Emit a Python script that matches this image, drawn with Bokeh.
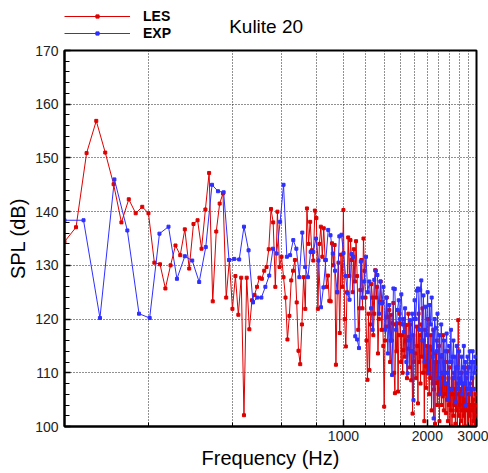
from bokeh.plotting import figure
from bokeh.layouts import column
from bokeh.models import (Legend, LegendItem, FixedTicker, SingleIntervalTicker,
                          PrintfTickFormatter, Range1d, Label)
from bokeh.embed import file_html
from bokeh.resources import INLINE

# ---------------- data ----------------
les_freq = list(range(100, 3001, 10))      # Hz, LES spectrum bins
exp_freq = list(range(100, 3000, 17))      # Hz, experiment spectrum bins

les_spl = [
    134.4, 137.1, 150.9, 156.9, 151.0, 145.1, 138.0, 142.3, 139.7, 140.9,
    139.7, 130.5, 130.2, 125.7, 130.0, 133.7, 131.9, 136.7, 129.4, 137.7,
    138.4, 133.1, 140.4, 147.2, 123.3, 136.3, 141.5, 143.4, 124.0, 131.0,
    121.9, 128.0, 120.8, 127.7, 102.1, 127.7, 118.1, 123.5, 124.5, 126.0,
    127.7, 127.5, 129.0, 129.7, 133.0, 140.5, 138.0, 126.0, 140.0, 129.7,
    131.6, 127.8, 124.0, 116.2, 120.6, 127.2, 129.0, 131.0, 123.1, 114.1,
    111.6, 119.0, 127.8, 121.9, 140.6, 134.0, 138.1, 132.8, 130.9, 140.2,
    138.8, 121.9, 134.0, 137.2, 131.6, 136.9, 131.0, 126.0, 128.1, 123.4,
    123.3, 134.1, 130.0, 133.8, 111.5, 125.0, 130.5, 117.4, 132.0, 126.0,
    140.3, 120.0, 114.9, 125.0, 135.2, 128.0, 134.7, 131.0, 125.0, 133.0,
    127.0, 134.5, 128.0, 118.0, 122.0, 125.4, 131.0, 122.0, 135.0, 129.0,
    124.0, 116.0, 108.7, 121.0, 110.5, 119.0, 126.5, 124.0, 117.0, 121.0,
    129.1, 124.0, 126.0, 113.6, 120.0, 123.2, 127.0, 118.0, 123.2, 115.0,
    103.7, 116.0, 118.6, 124.0, 120.4, 118.6, 121.7, 112.0, 120.8, 116.0,
    119.2, 123.0, 110.0, 106.2, 119.0, 114.0, 119.2, 106.5, 117.0, 121.0,
    119.2, 112.0, 117.0, 110.0, 114.2, 120.0, 113.0, 116.0, 118.9, 109.0,
    114.5, 121.0, 116.7, 111.0, 119.0, 108.6, 114.0, 102.4, 117.0, 112.0,
    120.0, 113.6, 109.0, 118.6, 115.0, 104.3, 121.0, 112.0, 117.0, 108.0,
    119.0, 113.0, 122.0, 110.0, 116.0, 101.0, 118.0, 111.2, 107.2, 115.0,
    110.0, 120.0, 112.0, 106.0, 114.9, 109.0, 117.0, 103.0, 114.3, 108.0,
    118.0, 106.9, 112.0, 100.5, 113.6, 108.1, 116.0, 104.0, 112.0, 106.0,
    115.0, 101.0, 109.0, 106.9, 113.0, 104.0, 110.0, 105.6, 117.0, 103.0,
    110.0, 106.0, 112.0, 102.5, 108.0, 105.0, 114.0, 101.0, 109.0, 104.0,
    111.0, 98.0, 107.0, 103.0, 112.0, 100.0, 106.0, 109.0, 102.0, 110.0,
    104.0, 107.0, 100.5, 111.0, 103.0, 108.0, 99.0, 106.0, 119.8, 102.0,
    109.0, 104.0, 98.0, 107.0, 101.0, 110.0, 103.0, 106.0, 99.0, 108.0,
    102.0, 111.0, 100.0, 105.0, 98.0, 109.0, 103.0, 107.0, 100.0, 104.0,
    111.0, 99.0, 106.0, 102.0, 108.0, 98.0, 104.0, 100.0, 107.0, 103.0,
    109.0, 99.0, 105.0, 101.0, 107.0, 98.0, 104.0, 100.0, 106.0, 102.0,
    104.0,
]

exp_spl = [
    138.4, 138.4, 120.2, 146.0, 136.5, 121.0, 120.2, 135.9, 137.2, 127.5,
    131.7, 130.9, 126.9, 133.4, 145.0, 143.8, 143.6, 131.0, 131.2, 131.1,
    137.2, 132.8, 123.1, 124.0, 124.0, 126.0, 128.1, 133.1, 132.2, 138.1,
    145.0, 131.6, 131.9, 134.7, 133.1, 127.8, 136.1, 129.7, 127.8, 132.5,
    132.5, 135.0, 130.9, 122.2, 125.9, 131.0, 136.6, 135.6, 132.2, 129.0,
    125.0, 135.4, 135.7, 132.3, 128.0, 124.8, 123.6, 132.1, 131.6, 116.8,
    116.2, 114.6, 130.7, 124.0, 127.0, 131.6, 125.0, 127.0, 122.0, 118.0,
    127.3, 129.0, 128.2, 121.0, 127.0, 122.9, 126.0, 118.0, 124.0, 113.6,
    122.6, 116.0, 109.6, 125.7, 125.6, 118.0, 121.7, 123.5, 120.0, 124.6,
    119.0, 117.6, 122.0, 112.0, 109.9, 116.0, 119.8, 114.0, 121.0, 104.9,
    123.5, 120.0, 125.3, 125.7, 118.0, 125.4, 127.2, 116.0, 124.4, 112.0,
    122.3, 117.0, 125.0, 110.0, 122.6, 119.0, 124.0, 113.0, 101.5, 120.0,
    118.3, 114.0, 121.0, 109.0, 117.0, 106.0, 119.0, 113.3, 110.0, 116.0,
    108.0, 114.0, 117.3, 110.0, 105.0, 115.0, 112.0, 118.0, 107.0, 113.0,
    116.0, 109.0, 113.0, 104.5, 115.0, 111.0, 107.0, 114.0, 110.0, 108.0,
    113.0, 106.0, 111.0, 115.0, 108.0, 112.0, 104.0, 110.0, 113.0, 107.0,
    111.0, 114.0, 106.0, 112.0, 109.0, 114.0, 107.0, 112.0, 110.0, 113.0,
    111.0,
]

x_major_ticks = [1000, 2000, 3000]
x_minor_ticks = [200, 400, 600, 800, 1200, 1400, 1600, 1800,
                 2200, 2400, 2600, 2800]
chart_title = "Kulite 20"
series_names = ["LES", "EXP"]

n_les = min(len(les_freq), len(les_spl))
n_exp = min(len(exp_freq), len(exp_spl))
les_freq, les_spl = les_freq[:n_les], les_spl[:n_les]
exp_freq, exp_spl = exp_freq[:n_exp], exp_spl[:n_exp]

# ---------------- styling ----------------
FONT = "Liberation Sans"
RED = "#dd0000"
BLUE = "#2f2fff"
W = 488
HEAD_H = 42
HEAD_LEFT = 64
HEAD_TOP = 7

# ---------- header strip: legend + title ----------
head = figure(width=W, height=HEAD_H,
              x_range=Range1d(HEAD_LEFT, W), y_range=Range1d(0, HEAD_H - HEAD_TOP),
              x_axis_location=None, y_axis_location=None,
              output_backend="svg", toolbar_location=None,
              min_border_left=HEAD_LEFT, min_border_top=HEAD_TOP,
              min_border_right=0, min_border_bottom=0,
              outline_line_color=None,
              background_fill_color="white", border_fill_color="white")
head.grid.visible = False
# legend-only renderers (their single point lies outside the strip's visible range)
off = [-1000]
h_les_l = head.line(off, off, line_color=RED, line_width=1)
h_les_p = head.scatter(off, off, marker="square", size=3, fill_color=RED, line_color=RED)
h_exp_l = head.line(off, off, line_color=BLUE, line_width=1)
h_exp_p = head.scatter(off, off, marker="square", size=3, fill_color=BLUE, line_color=BLUE)
legend = Legend(items=[LegendItem(label=series_names[0], renderers=[h_les_l, h_les_p]),
                       LegendItem(label=series_names[1], renderers=[h_exp_l, h_exp_p])],
                location="top_left", orientation="vertical",
                glyph_width=66, glyph_height=8, label_height=17,
                label_standoff=13, spacing=0, padding=0, margin=0,
                border_line_color=None, background_fill_alpha=0,
                label_text_font=FONT, label_text_font_size="14px",
                label_text_font_style="bold", label_text_color="black")
head.add_layout(legend, "center")
head.add_layout(Label(x=272, y=HEAD_H - 26, text=chart_title,
                      text_align="center", text_baseline="middle",
                      text_font=FONT, text_font_size="19px", text_color="black"))

# ---------- main chart ----------
p = figure(frame_width=412, frame_height=376,
           x_axis_type="log",
           x_range=Range1d(100, 3000), y_range=Range1d(100, 170),
           output_backend="svg", toolbar_location=None,
           min_border_left=63, min_border_right=13,
           min_border_top=8, min_border_bottom=47,
           background_fill_color="white", border_fill_color="white")

les_line = p.line(les_freq, les_spl, line_color=RED, line_width=1)
les_pts = p.scatter(les_freq, les_spl, marker="square", size=3,
                    fill_color=RED, line_color=RED)
exp_line = p.line(exp_freq, exp_spl, line_color=BLUE, line_width=1)
exp_pts = p.scatter(exp_freq, exp_spl, marker="square", size=3,
                    fill_color=BLUE, line_color=BLUE)

p.outline_line_color = "black"
p.outline_line_width = 2
p.outline_line_alpha = 1

xa = p.xaxis[0]
xa.ticker = FixedTicker(ticks=x_major_ticks, minor_ticks=x_minor_ticks)
xa.formatter = PrintfTickFormatter(format="%d")
xa.axis_label = "Frequency (Hz)"
xa.major_tick_in = 7
xa.major_tick_out = 0
xa.minor_tick_in = 4
xa.minor_tick_out = 0
xa.major_label_standoff = 4
xa.axis_label_standoff = 3

ya = p.yaxis[0]
ya.ticker = SingleIntervalTicker(interval=10, num_minor_ticks=5)
ya.axis_label = "SPL (dB)"
ya.major_tick_in = 6
ya.major_tick_out = 0
ya.minor_tick_in = 5
ya.minor_tick_out = 0
ya.major_label_standoff = 6
ya.axis_label_standoff = 3

for ax in (xa, ya):
    ax.axis_line_width = 2
    ax.axis_line_color = "black"
    ax.major_tick_line_width = 1.5
    ax.minor_tick_line_width = 1
    ax.major_tick_line_color = "black"
    ax.minor_tick_line_color = "black"
    ax.major_label_text_font = FONT
    ax.major_label_text_font_size = "14px"
    ax.major_label_text_color = "#222222"
    ax.axis_label_text_font = FONT
    ax.axis_label_text_font_size = "20px"
    ax.axis_label_text_font_style = "normal"
    ax.axis_label_text_color = "black"

for g in (p.xgrid[0], p.ygrid[0]):
    g.grid_line_color = "#222222"
    g.grid_line_dash = "1 2"
    g.grid_line_width = 1
p.xgrid[0].minor_grid_line_color = "#222222"
p.xgrid[0].minor_grid_line_dash = "1 2"
p.xgrid[0].minor_grid_line_width = 1

layout = column(head, p, spacing=0)
open("out.html", "w").write(file_html(layout, INLINE))
